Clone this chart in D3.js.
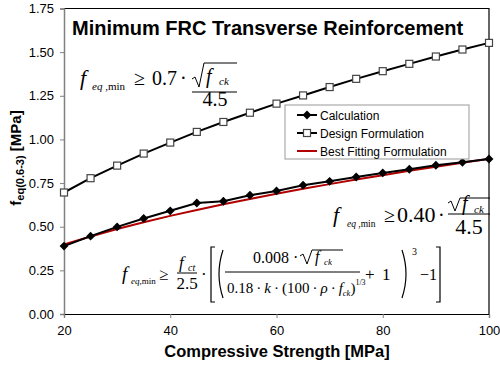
<!DOCTYPE html>
<html>
<head>
<meta charset="utf-8">
<script src="https://cdn.jsdelivr.net/npm/d3@7"></script>
<style>
  body { margin: 0; background: #fff; }
  svg { display: block; font-family: Arial, "Liberation Sans", sans-serif; }
  .eq { font-family: "Times New Roman", "Liberation Serif", serif; }
</style>
</head>
<body>
<svg id="chart" width="500" height="369"></svg>
<script>
// compressive strength (x) values
const strength = [20, 25, 30, 35, 40, 45, 50, 55, 60, 65, 70, 75, 80, 85, 90, 95, 100];
// series
const calculation = [0.389, 0.446, 0.499, 0.547, 0.591, 0.636, 0.646, 0.680, 0.705, 0.738, 0.760, 0.785, 0.808, 0.829, 0.852, 0.869, 0.888];
const designFormulation = [0.696, 0.778, 0.850, 0.919, 0.982, 1.043, 1.100, 1.153, 1.205, 1.252, 1.300, 1.347, 1.391, 1.433, 1.475, 1.515, 1.553];
const bestFitting = [0.398, 0.444, 0.487, 0.526, 0.562, 0.596, 0.629, 0.659, 0.689, 0.717, 0.744, 0.770, 0.795, 0.820, 0.843, 0.866, 0.889];
const xTicks = [20, 40, 60, 80, 100];
const yTicks = [0, 0.25, 0.5, 0.75, 1.0, 1.25, 1.5, 1.75];
const legendLabels = ['Calculation', 'Design Formulation', 'Best Fitting Formulation'];

const svg = d3.select('#chart');
const plotL = 64, plotR = 489, plotT = 8.5, plotB = 314;

const x = d3.scaleLinear().domain([20, 100]).range([plotL, plotR]);
const y = d3.scaleLinear().domain([0, 1.75]).range([plotB, plotT]);

// frame (top and right black)
svg.append('path')
  .attr('d', `M${plotL},${plotT}H${plotR}V${plotB}`)
  .attr('fill', 'none').attr('stroke', '#000').attr('stroke-width', 1.2);

// y axis (grey)
const yAxis = svg.append('g')
  .attr('transform', `translate(${plotL},0)`)
  .call(d3.axisLeft(y).tickValues(yTicks).tickFormat(d3.format('.2f')).tickSize(4).tickPadding(6));
yAxis.select('.domain').attr('stroke', '#808080').attr('stroke-width', 1.5);
yAxis.selectAll('.tick line').attr('stroke', '#808080');
yAxis.selectAll('.tick text').attr('font-size', 13).attr('fill', '#000')
  .attr('font-family', 'Arial, "Liberation Sans", sans-serif');

// x axis
const xAxis = svg.append('g')
  .attr('transform', `translate(0,${plotB})`)
  .call(d3.axisBottom(x).tickValues(xTicks).tickSize(4).tickPadding(8));
xAxis.select('.domain').attr('stroke', '#000').attr('stroke-width', 1.2);
xAxis.selectAll('.tick line').attr('stroke', '#808080');
xAxis.selectAll('.tick text').attr('font-size', 13).attr('fill', '#000')
  .attr('font-family', 'Arial, "Liberation Sans", sans-serif');

// axis titles
svg.append('text')
  .attr('x', 277).attr('y', 357)
  .attr('text-anchor', 'middle')
  .attr('font-size', 16.5).attr('font-weight', 'bold')
  .text('Compressive Strength [MPa]');

const yt = svg.append('text')
  .attr('transform', 'translate(21,158) rotate(-90)')
  .attr('text-anchor', 'middle')
  .attr('font-size', 15).attr('font-weight', 'bold');
yt.append('tspan').text('f');
yt.append('tspan').attr('font-size', 11).attr('dy', 3).text('eq(0.6-3)');
yt.append('tspan').attr('dy', -3).text(' [MPa]');

// chart title
svg.append('text')
  .attr('x', 72).attr('y', 35)
  .attr('font-size', 20).attr('font-weight', 'bold')
  .text('Minimum FRC Transverse Reinforcement');

// lines
const mk = vals => strength.map((s, i) => [s, vals[i]]);
const line = d3.line().x(d => x(d[0])).y(d => y(d[1]));

svg.append('path').datum(mk(bestFitting))
  .attr('d', line).attr('fill', 'none')
  .attr('stroke', '#b00000').attr('stroke-width', 2);

svg.append('path').datum(mk(calculation))
  .attr('d', line).attr('fill', 'none')
  .attr('stroke', '#000').attr('stroke-width', 2);

svg.append('path').datum(mk(designFormulation))
  .attr('d', line).attr('fill', 'none')
  .attr('stroke', '#000').attr('stroke-width', 2);

const diamond = d3.symbol().type(d3.symbolDiamond2).size(50);

svg.append('g').selectAll('path')
  .data(mk(calculation)).join('path')
  .attr('transform', d => `translate(${x(d[0])},${y(d[1])})`)
  .attr('d', diamond).attr('fill', '#000');

svg.append('g').selectAll('rect')
  .data(mk(designFormulation)).join('rect')
  .attr('x', d => x(d[0]) - 3.5).attr('y', d => y(d[1]) - 3.5)
  .attr('width', 7).attr('height', 7)
  .attr('fill', '#fff').attr('stroke', '#444').attr('stroke-width', 1.2);

// legend
const lg = svg.append('g');
lg.append('rect').attr('x', 285).attr('y', 105).attr('width', 184).attr('height', 54)
  .attr('fill', '#fff').attr('stroke', '#999');
legendLabels.forEach((lab, i) => {
  const ly = 115 + i * 18;
  lg.append('line').attr('x1', 297).attr('x2', 317).attr('y1', ly).attr('y2', ly)
    .attr('stroke', i === 2 ? '#b00000' : '#000').attr('stroke-width', 2);
  if (i === 0) {
    lg.append('path').attr('transform', `translate(307,${ly})`).attr('d', diamond).attr('fill', '#000');
  } else if (i === 1) {
    lg.append('rect').attr('x', 303.5).attr('y', ly - 3.5).attr('width', 7).attr('height', 7)
      .attr('fill', '#fff').attr('stroke', '#444').attr('stroke-width', 1.2);
  }
  lg.append('text').attr('x', 320).attr('y', ly + 4.5).attr('font-size', 12).text(lab);
});

// equations
const eq = svg.append('g').attr('class', 'eq').attr('fill', '#000');
function t(xp, yp, size, str, italic) {
  return eq.append('text').attr('x', xp).attr('y', yp).attr('font-size', size)
    .attr('font-style', italic ? 'italic' : 'normal').text(str);
}
function radical(x0, yTop, yBot, x1) {
  eq.append('path')
    .attr('d', `M${x0},${yBot - 8}L${x0 + 3},${yBot - 10}L${x0 + 7},${yBot}L${x0 + 12},${yTop}H${x1}`)
    .attr('fill', 'none').attr('stroke', '#000').attr('stroke-width', 1);
}
function hline(x0, x1, yp) {
  eq.append('line').attr('x1', x0).attr('x2', x1).attr('y1', yp).attr('y2', yp)
    .attr('stroke', '#000').attr('stroke-width', 1);
}
const dot = '\u2009\u00b7\u2009';

// eq 1
t(80, 85, 22, 'f', true);
const s1 = t(92, 90, 11, 'eq', true);
s1.append('tspan').attr('font-style', 'normal').text(' ,min');
t(134, 85, 20, '\u2265');
t(152, 85, 20, '0.7');
t(180, 85, 20, '\u00b7');
radical(192, 63, 87, 237);
t(206, 83, 20, 'f', true);
t(219, 85, 11, 'ck', true);
hline(192, 237, 92);
t(215, 106, 20, '4.5').attr('text-anchor', 'middle');

// eq 2
t(333, 222, 22, 'f', true);
const s2 = t(347, 227, 9.5, 'eq', true);
s2.append('tspan').attr('font-style', 'normal').text(' ,min');
t(384, 222, 20, '\u2265');
t(397, 222, 22, '0.40');
t(438, 222, 20, '\u00b7');
radical(448, 198, 211, 490);
t(462, 210, 20, 'f', true);
t(474, 213, 11, 'ck', true);
hline(448, 490, 214);
t(469, 234, 22, '4.5').attr('text-anchor', 'middle');

// eq 3
t(122, 280, 19, 'f', true);
const s3 = t(131, 284, 9, 'eq', true);
s3.append('tspan').attr('font-style', 'normal').text(',min');
t(159, 280, 17, '\u2265');
t(179, 268, 17, 'f', true);
t(188, 271, 10, 'ct', true);
hline(177, 197, 273);
t(187, 289, 17, '2.5').attr('text-anchor', 'middle');
t(201, 280, 17, '\u00b7');
eq.append('path').attr('d', 'M215,247H211V302H215').attr('fill', 'none').attr('stroke', '#000').attr('stroke-width', 1.2);
eq.append('path').attr('d', 'M223,250Q215,274 223,298').attr('fill', 'none').attr('stroke', '#000').attr('stroke-width', 1.2);
t(253, 263, 16, '0.008 \u00b7 ');
radical(300, 250, 264, 343);
t(315, 262, 16, 'f', true);
t(324, 265, 9, 'ck', true);
hline(225, 360, 272);
const den = t(227, 293, 15, '0.18' + dot);
den.append('tspan').attr('font-style', 'italic').text('k');
den.append('tspan').text(dot + '(100' + dot);
den.append('tspan').attr('font-style', 'italic').text('\u03c1');
den.append('tspan').text(dot);
den.append('tspan').attr('font-style', 'italic').text('f');
den.append('tspan').attr('font-style', 'italic').attr('font-size', 8.5).attr('dy', 3).text('ck');
den.append('tspan').attr('dy', -3).text(')');
den.append('tspan').attr('font-size', 8).attr('dy', -8).text('1/3');
t(365, 280, 17, '+');
t(382, 280, 17, '1');
eq.append('path').attr('d', 'M402,250Q410,274 402,298').attr('fill', 'none').attr('stroke', '#000').attr('stroke-width', 1.2);
t(412, 255, 10, '3');
t(420, 280, 16, '\u22121');
eq.append('path').attr('d', 'M436,247H440V302H436').attr('fill', 'none').attr('stroke', '#000').attr('stroke-width', 1.2);
</script>
</body>
</html>
